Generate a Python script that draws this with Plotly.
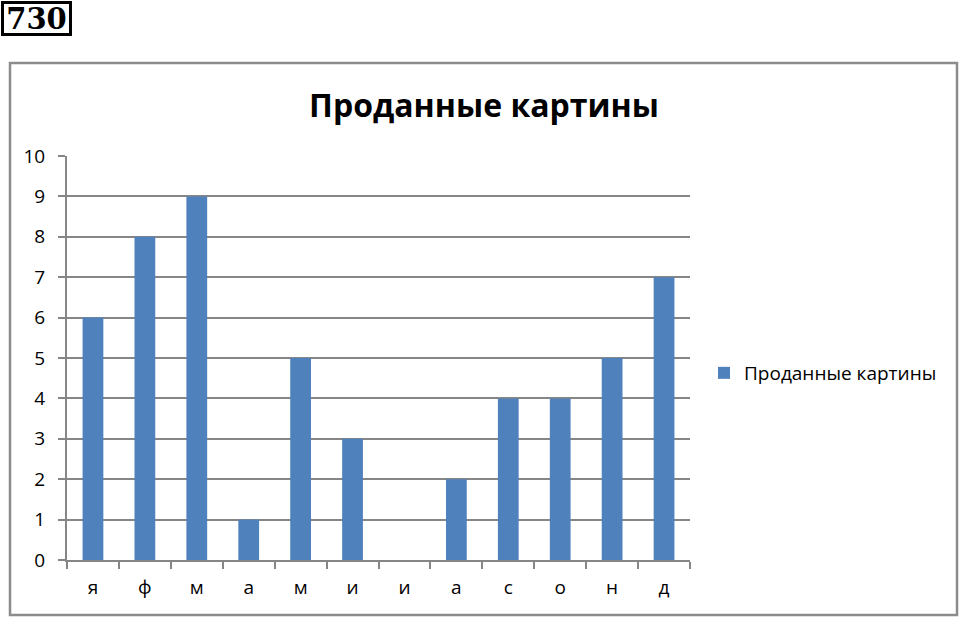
import plotly.graph_objects as go

months = ["я", "ф", "м", "а", "м", "и", "и", "а", "с", "о", "н", "д"]
sold = [6, 8, 9, 1, 5, 3, 0, 2, 4, 4, 5, 7]
series_name = "Проданные картины"
y_ticks = list(range(0, 11))

W, H = 960, 618
L, T, PW, PH = 67, 156, 623, 404   # plot area in pixels
FONT = "Open Sans"
GRID = "#868686"


def px_x(x):
    return (x - L) / PW


def px_y(y):
    return (T + PH - y) / PH


fig = go.Figure()
fig.add_trace(go.Bar(
    x=list(range(len(months))), y=sold, name=series_name,
    width=0.4,
    marker=dict(color="#4F81BD", line=dict(width=0)),
    showlegend=True,
))

fig.update_layout(
    width=W, height=H,
    margin=dict(l=L, r=W - L - PW, t=T, b=H - T - PH),
    paper_bgcolor="white", plot_bgcolor="white",
    font=dict(family=FONT, size=19, color="black"),
    title=dict(text="<b>" + series_name + "</b>", xref="container", yref="container",
               x=484 / W, xanchor="center", y=1 - 106 / H, yanchor="middle",
               font=dict(family=FONT, size=32, color="black")),
    showlegend=True,
    legend=dict(x=px_x(704), y=px_y(373), xanchor="left", yanchor="middle",
                font=dict(family=FONT, size=19), bgcolor="rgba(0,0,0,0)"),
)

fig.update_xaxes(
    range=[-0.5, len(months) - 0.5],
    tickmode="array", tickvals=list(range(len(months))), ticktext=months,
    ticks="", showgrid=False,
    showline=True, linecolor=GRID, linewidth=2,
    ticklabelstandoff=9,
    minor=dict(tick0=-0.5, dtick=1, ticks="outside", ticklen=7, tickcolor=GRID, tickwidth=2),
    fixedrange=True,
)
fig.update_yaxes(
    range=[0, 10], tickmode="array", tickvals=y_ticks,
    ticks="outside", ticklen=7, tickcolor=GRID, tickwidth=2,
    showgrid=True, gridcolor=GRID, gridwidth=1.5,
    showline=True, linecolor=GRID, linewidth=2,
    zeroline=False, ticklabelstandoff=9,
    fixedrange=True,
)

# outer chart frame
fig.add_shape(type="rect", xref="paper", yref="paper",
              x0=px_x(10), x1=px_x(957), y0=px_y(615), y1=px_y(63),
              line=dict(color="#8C8C8C", width=2.5), layer="below")

# task number label
fig.add_annotation(text="<b>730</b>", xref="paper", yref="paper",
                   x=px_x(1), y=px_y(1),
                   xanchor="left", yanchor="top", showarrow=False,
                   width=63, height=27,
                   font=dict(family="DejaVu Serif", size=29, color="black"),
                   bordercolor="black", borderwidth=3, borderpad=1, bgcolor="white")

# drop the default page margin so the figure fills the window
fig.write_html("out.html", config={"displayModeBar": False},
               post_script="document.body.style.margin='0';")
